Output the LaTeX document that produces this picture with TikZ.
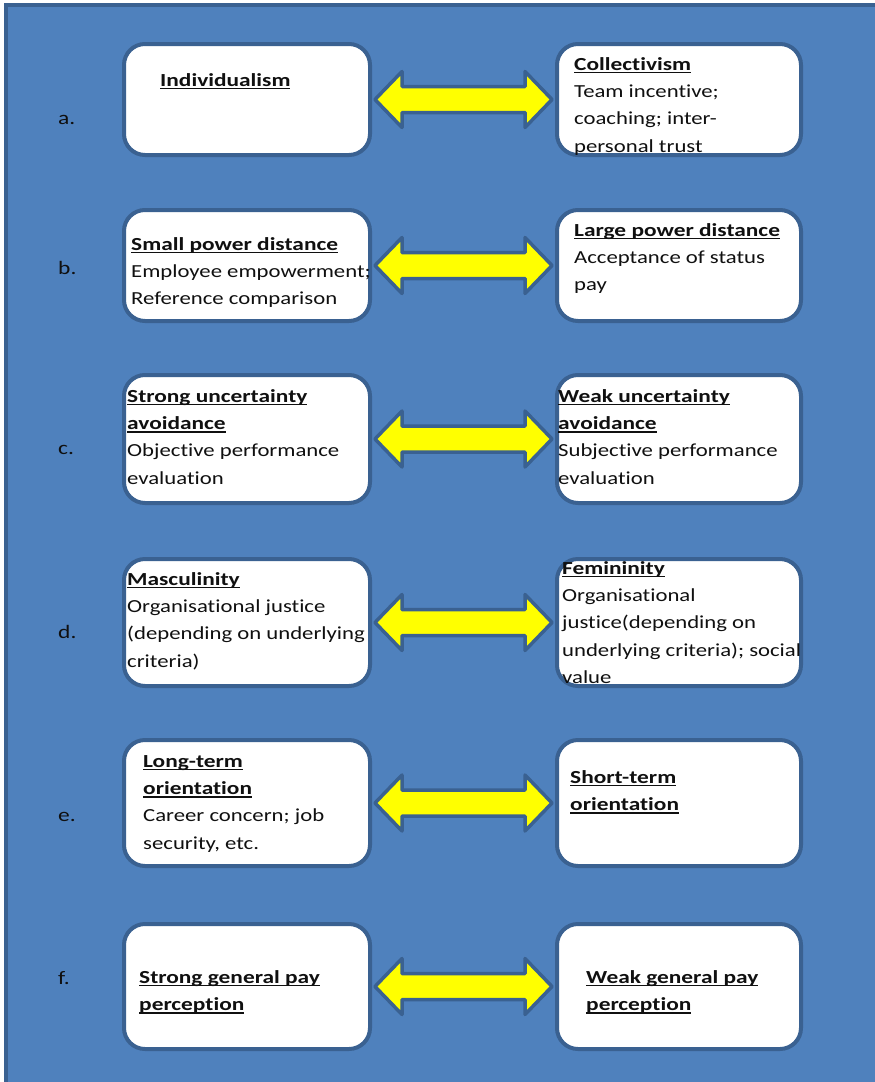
\documentclass[tikz,border=0pt]{standalone}
\usepackage{fontspec}
\setmainfont{Carlito}[FakeStretch=1.235, BoldFeatures={FakeStretch=1.27}, Ligatures=NoCommon]
\usetikzlibrary{calc}
\definecolor{bgblue}{HTML}{4F81BD}
\definecolor{edgeblue}{HTML}{3A6191}
\definecolor{inkc}{HTML}{101010}
\definecolor{arrowyellow}{HTML}{FFFF00}

% bold heading with a Word-style underline
\newcommand{\headu}[1]{\setbox0=\hbox{\bfseries #1}\rlap{\rule[-3.2pt]{\wd0}{1.7pt}}\box0}

% yellow two-headed arrow between two boxes of the same row
\newcommand{\linkarrow}[2]{%
  \draw[yarrow] ($(#1.east)+(3,0)$) -- ++(27,-28) -- ++(0,15)
    -- ($(#2.west)+(-30,-13)$) -- ++(0,-15) -- ($(#2.west)+(-3,0)$)
    -- ++(-27,28) -- ++(0,-15) -- ($(#1.east)+(30,13)$) -- ++(0,15) -- cycle;}

\begin{document}
\begin{tikzpicture}[x=1pt,y=-1pt,
  cbox/.style={draw=edgeblue, fill=white, line width=4pt, rounded corners=21pt,
    inner sep=0pt, minimum height=#1},
  lbox/.style={cbox=#1, minimum width=246pt},
  rbox/.style={cbox=#1, minimum width=244pt},
  yarrow/.style={fill=arrowyellow, draw=edgeblue, line width=3.5pt, line join=round},
  txt/.style={anchor=north west, inner sep=0pt, align=left, text=inkc,
    font=\fontsize{18.4}{27.4}\selectfont, execute at begin node={\rule{0pt}{13pt}}},
  lab/.style={anchor=base west, inner sep=0pt, text=inkc, font=\fontsize{19}{22}\selectfont}]

\useasboundingbox (0,0) rectangle (875,1082);
\fill[white] (0,0) rectangle (875,1082);
\draw[fill=bgblue, draw=edgeblue, line width=4pt] (6,5) rectangle (890,1095);

% row boxes
\node[lbox=111pt] (La) at (247,99.5) {};
\node[rbox=111pt] (Ra) at (679,99.5) {};
\node[lbox=111pt] (Lb) at (247,265.5) {};
\node[rbox=111pt] (Rb) at (679,265.5) {};
\node[lbox=128pt] (Lc) at (247,439) {};
\node[rbox=128pt] (Rc) at (679,439) {};
\node[lbox=127pt] (Ld) at (247,622.5) {};
\node[rbox=127pt] (Rd) at (679,622.5) {};
\node[lbox=126pt] (Le) at (247,803) {};
\node[rbox=126pt] (Re) at (679,803) {};
\node[lbox=125pt] (Lf) at (247,986.5) {};
\node[rbox=125pt] (Rf) at (679,986.5) {};

% connectors
\linkarrow{La}{Ra}
\linkarrow{Lb}{Rb}
\linkarrow{Lc}{Rc}
\linkarrow{Ld}{Rd}
\linkarrow{Le}{Re}
\linkarrow{Lf}{Rf}

% row letters
\node[lab] (ka) at (58,124) {a.};
\node[lab] (kb) at (58,274) {b.};
\node[lab] (kc) at (58,454) {c.};
\node[lab] (kd) at (58,638) {d.};
\node[lab] (ke) at (58,821) {e.};
\node[lab] (kf) at (58,984) {f.};

% box texts
\node[txt] (ta) at (160,73) {\headu{Individualism}};
\node[txt] (ua) at (574,57) {\headu{Collectivism}\\Team incentive;\\coaching; inter-\\personal trust};
\node[txt] (tb) at (131,237) {\headu{Small power distance}\\Employee empowerment;\\Reference comparison};
\node[txt] (ub) at (574,223) {\headu{Large power distance}\\Acceptance of status\\pay};
\node[txt] (tc) at (127,389) {\headu{Strong uncertainty}\\\headu{avoidance}\\Objective performance\\evaluation};
\node[txt] (uc) at (558,389) {\headu{Weak uncertainty}\\\headu{avoidance}\\Subjective performance\\evaluation};
\node[txt] (td) at (127,572) {\headu{Masculinity}\\Organisational justice\\(depending on underlying\\criteria)};
\node[txt] (ud) at (562,561) {\headu{Femininity}\\Organisational\\justice(depending on\\underlying criteria); social\\value};
\node[txt] (te) at (143,755) {\headu{Long-term}\\\headu{orientation}\\Career concern; job\\security, etc.};
\node[txt] (ue) at (570,770) {\headu{Short-term}\\\headu{orientation}};
\node[txt] (tf) at (139,970) {\headu{Strong general pay}\\\headu{perception}};
\node[txt] (uf) at (586,970) {\headu{Weak general pay}\\\headu{perception}};
\end{tikzpicture}
\end{document}
